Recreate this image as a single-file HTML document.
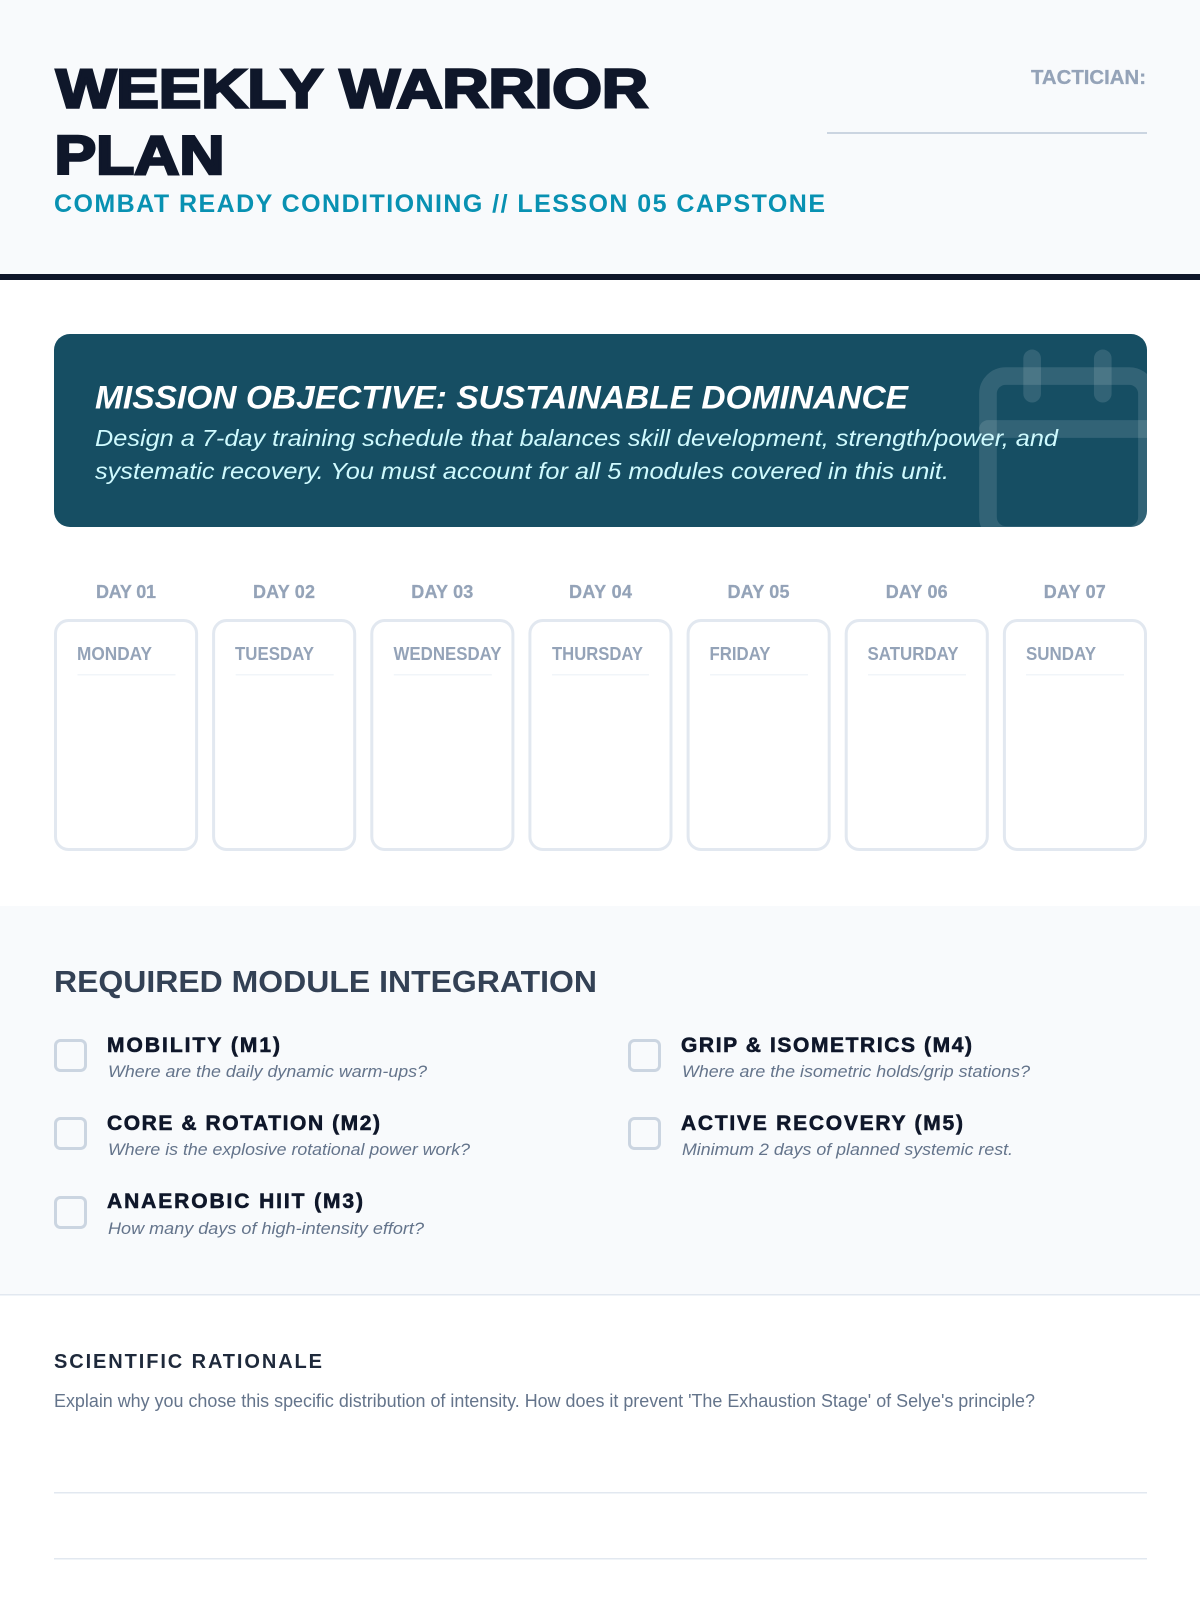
<!DOCTYPE html>
<html><head><meta charset="utf-8"><style>
html,body{margin:0;padding:0;background:#fff}
svg{display:block}
text{font-family:"Liberation Sans",sans-serif}
.day{font-size:18px;font-weight:700;fill:#94a3b8;stroke:#94a3b8;stroke-width:.25;text-anchor:middle}
.wd{font-size:18px;font-weight:700;fill:#94a3b8}
.lb{font-size:21px;font-weight:700;fill:#0f172a;stroke:#0f172a;stroke-width:.6}
.sb{font-size:17px;font-style:italic;fill:#64748b}
.card{fill:#fff;stroke:#e2e8f0;stroke-width:3}
.cb{fill:none;stroke:#cbd5e1;stroke-width:3}
</style></head><body>
<svg xmlns="http://www.w3.org/2000/svg" width="1200" height="1600" viewBox="0 0 1200 1600">
<rect width="1200" height="1600" fill="#fff"/>
<rect width="1200" height="274" fill="#f8fafc"/>
<rect y="274" width="1200" height="6" fill="#0f172a"/>
<g font-size="55" font-weight="700" fill="#0f172a" stroke="#0f172a" stroke-width="2.6" stroke-linejoin="miter">
<text x="56" y="107.7" textLength="592" lengthAdjust="spacingAndGlyphs">WEEKLY WARRIOR</text>
<text x="54.5" y="174" textLength="170" lengthAdjust="spacingAndGlyphs">PLAN</text>
</g>
<text x="54" y="212" font-size="25" font-weight="700" fill="#0891b2" textLength="771" lengthAdjust="spacing">COMBAT READY CONDITIONING // LESSON 05 CAPSTONE</text>
<text x="1031" y="84" font-size="20" font-weight="700" fill="#94a3b8" stroke="#94a3b8" stroke-width=".3" textLength="115" lengthAdjust="spacingAndGlyphs">TACTICIAN:</text>
<rect x="827" y="132" width="320" height="2" fill="#cbd5e1"/>

<clipPath id="h"><rect x="54" y="334" width="1093" height="193" rx="16"/></clipPath>
<rect x="54" y="334" width="1093" height="193" rx="16" fill="#164e63"/>
<g clip-path="url(#h)"><g transform="translate(961.5,340.7) scale(8.83)" fill="none" stroke="#fff" stroke-opacity=".12" stroke-width="2" stroke-linecap="round" stroke-linejoin="round">
<rect x="3" y="4" width="18" height="18" rx="2"/><line x1="16" y1="2" x2="16" y2="6"/><line x1="8" y1="2" x2="8" y2="6"/><line x1="3" y1="10" x2="21" y2="10"/></g></g>
<text x="95" y="408.5" font-size="32" font-weight="700" font-style="italic" fill="#fff" textLength="813" lengthAdjust="spacingAndGlyphs">MISSION OBJECTIVE: SUSTAINABLE DOMINANCE</text>
<g font-size="23" font-style="italic" fill="#cffafe">
<text x="95" y="446" textLength="963" lengthAdjust="spacingAndGlyphs">Design a 7-day training schedule that balances skill development, strength/power, and</text>
<text x="95" y="479" textLength="854" lengthAdjust="spacingAndGlyphs">systematic recovery. You must account for all 5 modules covered in this unit.</text>
</g>

<text class="day" x="126" y="598" textLength="60">DAY 01</text>
<text class="day" x="284" y="598" textLength="62">DAY 02</text>
<text class="day" x="442.3" y="598" textLength="62">DAY 03</text>
<text class="day" x="600.5" y="598" textLength="63">DAY 04</text>
<text class="day" x="758.5" y="598" textLength="62">DAY 05</text>
<text class="day" x="916.7" y="598" textLength="62">DAY 06</text>
<text class="day" x="1074.8" y="598" textLength="62">DAY 07</text>

<rect class="card" x="55.5" y="620.5" width="141.1" height="229" rx="13"/>
<rect class="card" x="213.6" y="620.5" width="141.1" height="229" rx="13"/>
<rect class="card" x="371.8" y="620.5" width="141.1" height="229" rx="13"/>
<rect class="card" x="529.9" y="620.5" width="141.1" height="229" rx="13"/>
<rect class="card" x="688.1" y="620.5" width="141.1" height="229" rx="13"/>
<rect class="card" x="846.2" y="620.5" width="141.1" height="229" rx="13"/>
<rect class="card" x="1004.4" y="620.5" width="141.1" height="229" rx="13"/>
<text class="wd" x="77" y="660" textLength="75" lengthAdjust="spacingAndGlyphs">MONDAY</text>
<text class="wd" x="235" y="660" textLength="79" lengthAdjust="spacingAndGlyphs">TUESDAY</text>
<text class="wd" x="393.5" y="660" textLength="108" lengthAdjust="spacingAndGlyphs">WEDNESDAY</text>
<text class="wd" x="552" y="660" textLength="91" lengthAdjust="spacingAndGlyphs">THURSDAY</text>
<text class="wd" x="709.5" y="660" textLength="61" lengthAdjust="spacingAndGlyphs">FRIDAY</text>
<text class="wd" x="867.5" y="660" textLength="91" lengthAdjust="spacingAndGlyphs">SATURDAY</text>
<text class="wd" x="1026" y="660" textLength="70" lengthAdjust="spacingAndGlyphs">SUNDAY</text>
<g fill="#f1f5f9">
<rect x="77.5" y="674" width="98" height="1.5"/><rect x="235.7" y="674" width="98" height="1.5"/><rect x="393.8" y="674" width="98" height="1.5"/><rect x="552" y="674" width="97" height="1.5"/><rect x="710" y="674" width="98" height="1.5"/><rect x="868" y="674" width="98" height="1.5"/><rect x="1026" y="674" width="98" height="1.5"/>
</g>

<rect y="906" width="1200" height="389" fill="#f8fafc"/>
<rect y="1294" width="1200" height="1.5" fill="#e2e8f0"/>
<text x="54" y="992" font-size="31" font-weight="700" fill="#334155" textLength="543" lengthAdjust="spacingAndGlyphs">REQUIRED MODULE INTEGRATION</text>

<rect class="cb" x="55.5" y="1040.5" width="30" height="30" rx="5"/>
<rect class="cb" x="55.5" y="1118.5" width="30" height="30" rx="5"/>
<rect class="cb" x="55.5" y="1197.5" width="30" height="30" rx="5"/>
<rect class="cb" x="629.5" y="1040.5" width="30" height="30" rx="5"/>
<rect class="cb" x="629.5" y="1118.5" width="30" height="30" rx="5"/>

<text class="lb" x="107" y="1052" textLength="173" lengthAdjust="spacing">MOBILITY (M1)</text>
<text class="sb" x="108" y="1077" textLength="319" lengthAdjust="spacingAndGlyphs">Where are the daily dynamic warm-ups?</text>
<text class="lb" x="107" y="1130" textLength="273" lengthAdjust="spacing">CORE &amp; ROTATION (M2)</text>
<text class="sb" x="108" y="1155" textLength="362" lengthAdjust="spacingAndGlyphs">Where is the explosive rotational power work?</text>
<text class="lb" x="107" y="1208" textLength="256" lengthAdjust="spacing">ANAEROBIC HIIT (M3)</text>
<text class="sb" x="108" y="1234" textLength="316" lengthAdjust="spacingAndGlyphs">How many days of high-intensity effort?</text>
<text class="lb" x="681" y="1052" textLength="291" lengthAdjust="spacing">GRIP &amp; ISOMETRICS (M4)</text>
<text class="sb" x="682" y="1077" textLength="348" lengthAdjust="spacingAndGlyphs">Where are the isometric holds/grip stations?</text>
<text class="lb" x="681" y="1130" textLength="282" lengthAdjust="spacing">ACTIVE RECOVERY (M5)</text>
<text class="sb" x="682" y="1155" textLength="331" lengthAdjust="spacingAndGlyphs">Minimum 2 days of planned systemic rest.</text>

<text x="54" y="1368" font-size="20" font-weight="700" fill="#1e293b" textLength="268" lengthAdjust="spacing">SCIENTIFIC RATIONALE</text>
<text x="54" y="1407" font-size="18" fill="#64748b" textLength="981" lengthAdjust="spacingAndGlyphs">Explain why you chose this specific distribution of intensity. How does it prevent 'The Exhaustion Stage' of Selye's principle?</text>
<rect x="54" y="1492" width="1093" height="1.5" fill="#e2e8f0"/>
<rect x="54" y="1558" width="1093" height="1.5" fill="#e2e8f0"/>
</svg>
</body></html>
